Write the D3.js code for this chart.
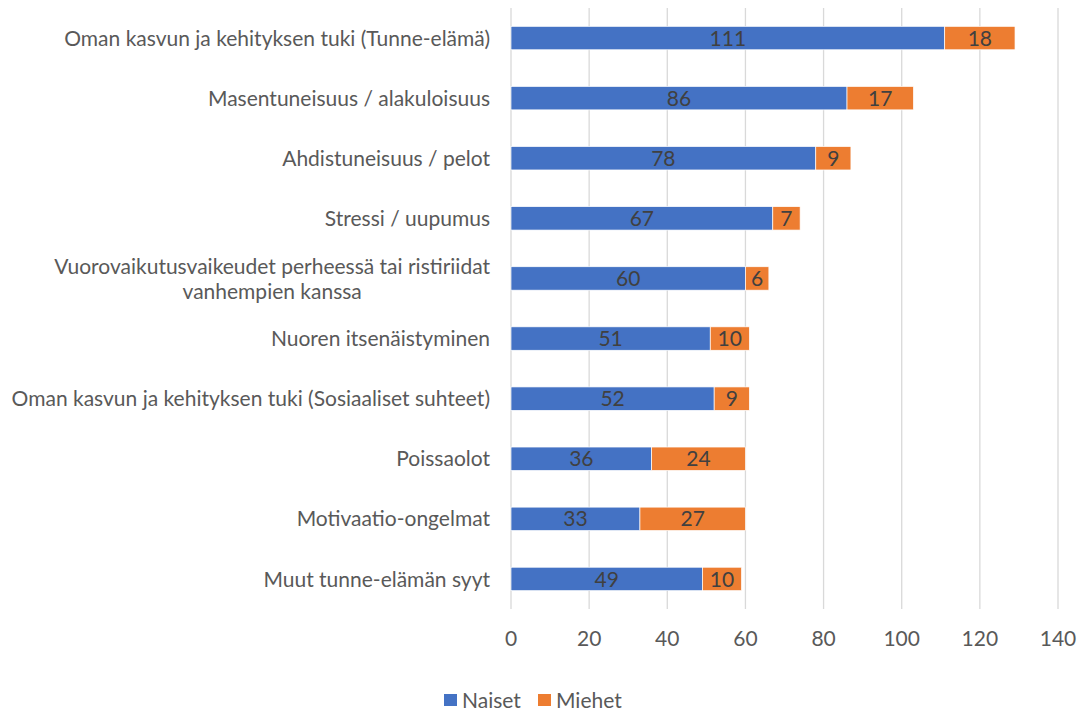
<!DOCTYPE html>
<html>
<head>
<meta charset="utf-8">
<script src="https://cdn.jsdelivr.net/npm/d3@7"></script>
<style>
  html, body { margin: 0; padding: 0; background: #fff; }
  svg { display: block; font-family: "Lato", "Open Sans", sans-serif; }
</style>
</head>
<body>
<svg id="chart" width="1081" height="711"></svg>
<script>
// Categories, top to bottom
const categories = [
  "Oman kasvun ja kehityksen tuki (Tunne-elämä)",
  "Masentuneisuus / alakuloisuus",
  "Ahdistuneisuus / pelot",
  "Stressi / uupumus",
  "Vuorovaikutusvaikeudet perheessä tai ristiriidat vanhempien kanssa",
  "Nuoren itsenäistyminen",
  "Oman kasvun ja kehityksen tuki (Sosiaaliset suhteet)",
  "Poissaolot",
  "Motivaatio-ongelmat",
  "Muut tunne-elämän syyt"
];
const naiset = [111, 86, 78, 67, 60, 51, 52, 36, 33, 49];
const miehet = [18, 17, 9, 7, 6, 10, 9, 24, 27, 10];
const seriesNames = ["Naiset", "Miehet"];
const colors = ["#4472C4", "#ED7D31"];
const xTicks = [0, 20, 40, 60, 80, 100, 120, 140];

// Labels that wrap onto two lines
const wrapped = {
  "Vuorovaikutusvaikeudet perheessä tai ristiriidat vanhempien kanssa":
    ["Vuorovaikutusvaikeudet perheessä tai ristiriidat", "vanhempien kanssa"]
};

const FS = 21;
const svg = d3.select("#chart");
const margin = { left: 511, right: 23, top: 8, bottom: 102 };
const W = 1081, H = 711;
const labelRight = 490;

const x = d3.scaleLinear().domain([0, 140]).range([margin.left, W - margin.right]);
const y = d3.scaleBand().domain(categories).range([margin.top, H - margin.bottom]).paddingInner(0.61).paddingOuter(0.305);

// Vertical gridlines
svg.append("g").selectAll("line").data(xTicks).join("line")
  .attr("x1", d => x(d)).attr("x2", d => x(d))
  .attr("y1", margin.top).attr("y2", H - margin.bottom)
  .attr("stroke", "#d9d9d9").attr("stroke-width", 1.3);

// Stacked data
const rows = categories.map((c, i) => ({ cat: c, Naiset: naiset[i], Miehet: miehet[i] }));
const stack = d3.stack().keys(seriesNames)(rows);

const layers = svg.append("g").selectAll("g").data(stack).join("g")
  .attr("fill", (d, i) => colors[i]);

layers.selectAll("rect").data(d => d).join("rect")
  .attr("x", d => x(d[0]))
  .attr("width", d => x(d[1]) - x(d[0]))
  .attr("y", d => y(d.data.cat))
  .attr("height", y.bandwidth())
  .attr("stroke", "#fff").attr("stroke-width", 0.7);

// Value labels centered in each segment
layers.selectAll("text").data(d => d).join("text")
  .attr("x", d => (x(d[0]) + x(d[1])) / 2)
  .attr("y", d => y(d.data.cat) + y.bandwidth() / 2)
  .attr("dy", "0.36em")
  .attr("text-anchor", "middle")
  .attr("font-size", FS)
  .attr("fill", "#404040")
  .text(d => d[1] - d[0]);

// Category labels: single lines right-aligned, wrapped blocks right-aligned with centered lines
const catG = svg.append("g");
categories.forEach(c => {
  const lines = wrapped[c] || [c];
  const cy = y(c) + y.bandwidth() / 2;
  const lh = 25;
  const t = catG.append("text")
    .attr("font-size", FS)
    .attr("fill", "#595959")
    .attr("text-anchor", lines.length > 1 ? "middle" : "end");
  const spans = lines.map((ln, k) => t.append("tspan")
    .attr("x", labelRight)
    .attr("y", cy + (k - (lines.length - 1) / 2) * lh)
    .attr("dy", "0.36em")
    .text(ln));
  if (lines.length > 1) {
    const maxW = d3.max(spans, s => s.node().getComputedTextLength());
    spans.forEach(s => s.attr("x", labelRight - maxW / 2));
  }
});

// X axis tick labels
svg.append("g").selectAll("text").data(xTicks).join("text")
  .attr("x", d => x(d))
  .attr("y", 638)
  .attr("dy", "0.36em")
  .attr("text-anchor", "middle")
  .attr("font-size", FS)
  .attr("fill", "#595959")
  .text(d => d);

// Legend
const legend = svg.append("g");
const legendX = [444, 538];
seriesNames.forEach((s, i) => {
  legend.append("rect")
    .attr("x", legendX[i]).attr("y", 694)
    .attr("width", 13).attr("height", 12)
    .attr("fill", colors[i]);
  legend.append("text")
    .attr("x", legendX[i] + 18).attr("y", 700)
    .attr("dy", "0.36em")
    .attr("font-size", FS)
    .attr("fill", "#595959")
    .text(s);
});
</script>
</body>
</html>
